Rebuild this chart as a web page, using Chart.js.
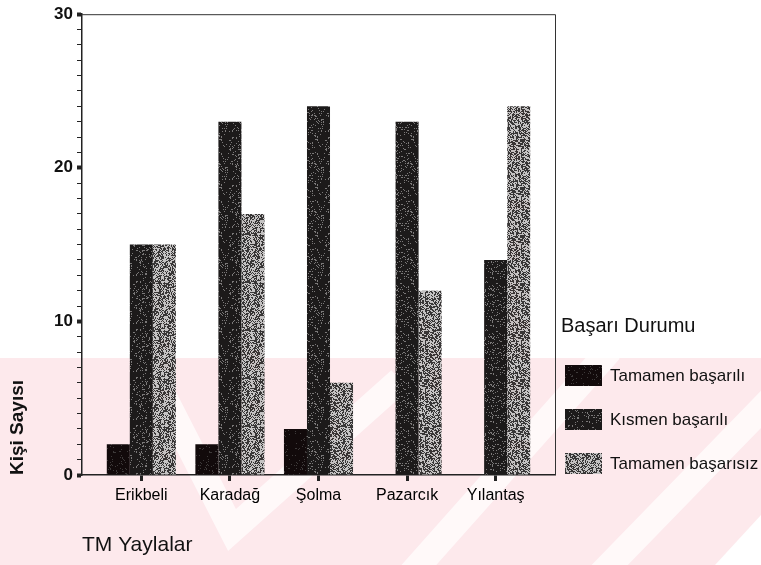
<!DOCTYPE html>
<html>
<head>
<meta charset="utf-8">
<script src="https://cdn.jsdelivr.net/npm/chart.js@4.4.0/dist/chart.umd.min.js"></script>
<style>
  html, body { margin: 0; padding: 0; background: #fff; }
  #wrap { width: 761px; height: 565px; }
</style>
</head>
<body>
<div id="wrap"><canvas id="myChart" width="761" height="565"></canvas></div>
<script>
const yaylalar = ['Erikbeli', 'Karadağ', 'Şolma', 'Pazarcık', 'Yılantaş']
const tamamenBasarili = [2, 2, 3, 0, 0]
const kismenBasarili = [15, 23, 24, 23, 14]
const tamamenBasarisiz = [15, 17, 6, 12, 24]
const yTicks = [0, 10, 20, 30]

// speckled fill like the scanned bars (fixed seed, texture only)
function speckle(base, dot, density, seed) {
    const c = document.createElement('canvas')
    c.width = c.height = 48
    const g = c.getContext('2d')
    g.fillStyle = base
    g.fillRect(0, 0, 48, 48)
    g.fillStyle = dot
    let s = seed
    for (let i = 0; i < 48 * 48; i++) {
        s = (s * 1103515245 + 12345) & 0x7fffffff
        if (((s >> 8) % 1000) < density * 1000) g.fillRect(i % 48, Math.floor(i / 48), 1, 1)
    }
    return g.createPattern(c, 'repeat')
}

const ctx = document.getElementById('myChart').getContext('2d')
const fillDark = speckle('#120a0b', '#3e3a3a', 0.06, 7)
const fillMid = speckle('#1c1a1a', '#7a7878', 0.13, 11)
const fillLight = speckle('#c4c2c2', '#383636', 0.5, 23)

const toPoints = arr => arr.map((v, i) => ({ x: i, y: v }))

// pale watermark behind the lower half
const watermark = {
    id: 'watermark',
    beforeDraw(chart) {
        const c = chart.ctx
        c.save()
        c.fillStyle = '#fde9ec'
        c.fillRect(0, 358, chart.width, chart.height - 358)
        c.strokeStyle = 'rgba(255,255,255,0.7)'
        c.lineWidth = 26
        c.beginPath()
        c.moveTo(140, 350); c.lineTo(232, 530); c.lineTo(400, 380)
        c.moveTo(410, 575); c.lineTo(610, 350)
        c.moveTo(600, 575); c.lineTo(775, 395)
        c.stroke()
        c.fillStyle = '#fff'
        c.beginPath()
        c.moveTo(715, 565); c.lineTo(761, 515); c.lineTo(761, 565)
        c.fill()
        c.restore()
    }
}

// frame round the plot and the side legend
const frame = {
    id: 'frame',
    afterDraw(chart) {
        const a = chart.chartArea
        const c = chart.ctx
        c.save()
        c.strokeStyle = '#333'
        c.lineWidth = 1
        c.beginPath()
        c.moveTo(a.left, a.top + 0.5); c.lineTo(a.right + 0.5, a.top + 0.5); c.lineTo(a.right + 0.5, a.bottom)
        c.stroke()

        c.fillStyle = '#111'
        c.textBaseline = 'alphabetic'
        c.font = '20px Arial, "Liberation Sans"'
        c.fillText('Başarı Durumu', a.right + 6, a.bottom - 143)
        c.font = '17px Arial, "Liberation Sans"'
        c.textBaseline = 'middle'
        chart.data.datasets.forEach((ds, i) => {
            const y = a.bottom - 110 + i * 44
            c.fillStyle = ds.backgroundColor
            c.fillRect(a.right + 10, y, 37, 21)
            c.fillStyle = '#111'
            c.fillText(ds.label, a.right + 55, y + 11)
        })
        c.restore()
    }
}

const data = {
    datasets: [{
        label: 'Tamamen başarılı',
        data: toPoints(tamamenBasarili),
        backgroundColor: fillDark
    },
    {
        label: 'Kısmen başarılı',
        data: toPoints(kismenBasarili),
        backgroundColor: fillMid
    },
    {
        label: 'Tamamen başarısız',
        data: toPoints(tamamenBasarisiz),
        backgroundColor: fillLight
    }]
}

const config = {
    type: 'bar',
    data,
    plugins: [watermark, frame],
    options: {
        responsive: false,
        animation: false,
        layout: { padding: { left: 0, top: 10, right: 206, bottom: 0 } },
        datasets: { bar: { categoryPercentage: 0.78, barPercentage: 1.0, borderWidth: 0 } },
        plugins: { legend: { display: false }, tooltip: { enabled: false } },
        scales: {
            x: {
                type: 'linear',
                min: -0.67,
                max: 4.67,
                offset: false,
                afterBuildTicks: s => { s.ticks = yaylalar.map((_, i) => ({ value: i })) },
                afterFit: s => { s.height = 90 },
                ticks: {
                    autoSkip: false,
                    maxRotation: 0,
                    padding: 5,
                    color: '#000',
                    font: { family: 'Arial, "Liberation Sans"', size: 16 },
                    callback: v => yaylalar[v]
                },
                grid: { offset: false, drawOnChartArea: false, tickLength: 6, tickWidth: 3, tickColor: '#222' },
                border: { display: true, color: '#222', width: 1.5 },
                title: {
                    display: true,
                    text: 'TM Yaylalar',
                    align: 'start',
                    color: '#111',
                    font: { family: 'Arial, "Liberation Sans"', size: 21 },
                    padding: { top: 0, bottom: 7 }
                }
            },
            y: {
                min: 0,
                max: 30,
                afterBuildTicks: s => {
                    const t = []
                    for (let v = 0; v <= 30; v++) t.push({ value: v })
                    s.ticks = t
                },
                afterFit: s => { s.width = 82 },
                ticks: {
                    autoSkip: false,
                    padding: 4,
                    color: '#111',
                    font: { family: 'Arial, "Liberation Sans"', size: 17, weight: 'bold' },
                    callback: v => yTicks.includes(v) ? v : ''
                },
                grid: {
                    drawOnChartArea: false,
                    tickLength: 5,
                    tickColor: '#222',
                    tickWidth: c => (c.tick && c.tick.value % 10 === 0) ? 4 : 1
                },
                border: { display: true, color: '#222', width: 1.5 },
                title: {
                    display: true,
                    text: 'Kişi Sayısı',
                    align: 'start',
                    color: '#111',
                    font: { family: 'Arial, "Liberation Sans"', size: 19, weight: 'bold' },
                    padding: { top: 6, bottom: 0 }
                }
            }
        }
    }
}

const myChart = new Chart(ctx, config)
</script>
</body>
</html>
